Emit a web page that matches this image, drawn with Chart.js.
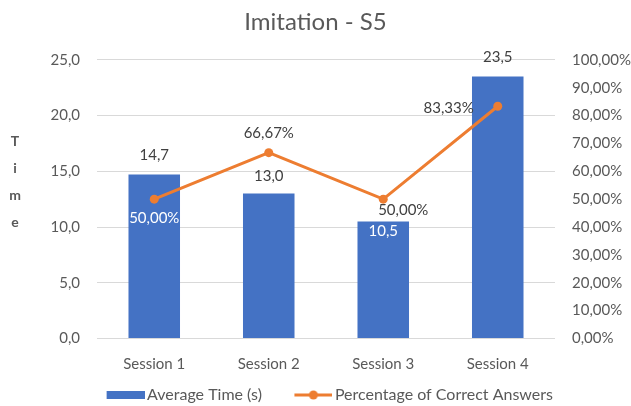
<!DOCTYPE html>
<html>
<head>
<meta charset="utf-8">
<script src="https://cdn.jsdelivr.net/npm/chart.js@4"></script>
<style>
  html, body { margin: 0; padding: 0; background: #fff; }
  #wrap { width: 631px; height: 406px; }
</style>
</head>
<body>
<div id="wrap"><canvas id="myChart" width="631" height="406"></canvas></div>
<script>
// chart data
const sessions = ['Session 1', 'Session 2', 'Session 3', 'Session 4'];
const avgTime = [14.7, 13.0, 10.5, 23.5];
const correctPct = [50.00, 66.67, 50.00, 83.33];

const BLUE = '#4472C4';
const ORANGE = '#ED7D31';
const GREY = '#595959';
const FONT = 'Lato';

function comma(v, d) {
    return v.toFixed(d).replace('.', ',');
}

// legend icons (left part transparent to space the two items apart)
function makeIcon(kind) {
    const c = document.createElement('canvas');
    c.width = 72; c.height = 10;
    const g = c.getContext('2d');
    const x0 = 34;
    if (kind === 'bar') {
        g.fillStyle = BLUE;
        g.fillRect(x0, 1, 38, 8);
    } else {
        g.strokeStyle = ORANGE;
        g.lineWidth = 3;
        g.beginPath(); g.moveTo(x0, 5); g.lineTo(x0 + 38, 5); g.stroke();
        g.fillStyle = ORANGE;
        g.beginPath(); g.arc(x0 + 19, 5, 4.5, 0, Math.PI * 2); g.fill();
    }
    return c;
}
const icons = [makeIcon('bar'), makeIcon('line')];

// where each value label sits relative to its mark
const barLabelPos = [
    {dx: 0, dy: -19, color: '#404040'},
    {dx: 0, dy: -17, color: '#404040'},
    {dx: 0, dy: 10, color: '#ffffff'},
    {dx: 0, dy: -19, color: '#404040'}
];
const lineLabelPos = [
    {dx: 0, dy: 19, color: '#ffffff', align: 'center'},
    {dx: 0, dy: -20, color: '#404040', align: 'center'},
    {dx: 20, dy: 11, color: '#404040', align: 'center'},
    {dx: -24, dy: 2, color: '#404040', align: 'right'}
];

const valueLabels = {
    id: 'valueLabels',
    afterDatasetsDraw(chart) {
        const ctx = chart.ctx;
        ctx.save();
        ctx.font = '15px ' + FONT;
        ctx.textBaseline = 'middle';
        chart.getDatasetMeta(0).data.forEach((el, i) => {
            const p = barLabelPos[i];
            ctx.fillStyle = p.color;
            ctx.textAlign = 'center';
            ctx.fillText(comma(avgTime[i], 1), el.x + p.dx, el.y + p.dy);
        });
        chart.getDatasetMeta(1).data.forEach((el, i) => {
            const p = lineLabelPos[i];
            ctx.fillStyle = p.color;
            ctx.textAlign = p.align;
            ctx.fillText(comma(correctPct[i], 2) + '%', el.x + p.dx, el.y + p.dy);
        });
        ctx.restore();
    }
};

// stacked "Time" axis title
const stackedTitle = {
    id: 'stackedTitle',
    afterDraw(chart) {
        const ctx = chart.ctx;
        ctx.save();
        ctx.font = 'bold 14px ' + FONT;
        ctx.fillStyle = GREY;
        ctx.textAlign = 'center';
        ctx.textBaseline = 'middle';
        'Time'.split('').forEach((ch, i) => {
            ctx.fillText(ch, 15, 141 + i * 27);
        });
        ctx.restore();
    }
};

const myChart = new Chart(document.getElementById('myChart'), {
    data: {
        labels: sessions,
        datasets: [{
            type: 'bar',
            label: 'Average Time (s)',
            data: avgTime,
            backgroundColor: BLUE,
            yAxisID: 'y',
            barPercentage: 0.45,
            categoryPercentage: 1,
            order: 1
        }, {
            type: 'line',
            label: 'Percentage of Correct Answers',
            data: correctPct,
            borderColor: ORANGE,
            backgroundColor: ORANGE,
            borderWidth: 3,
            pointRadius: 4.5,
            pointBackgroundColor: ORANGE,
            pointBorderWidth: 0,
            tension: 0,
            yAxisID: 'y1',
            order: 0
        }]
    },
    options: {
        responsive: false,
        animation: false,
        layout: {padding: {top: 0, bottom: -7, left: 0, right: 0}},
        plugins: {
            title: {
                display: true,
                text: 'Imitation - S5',
                color: GREY,
                font: {family: FONT, size: 24, weight: 'normal'},
                padding: {top: 8, bottom: 23}
            },
            legend: {
                position: 'bottom',
                labels: {
                    color: GREY,
                    font: {family: FONT, size: 16},
                    usePointStyle: true,
                    pointStyleWidth: 61,
                    padding: 4,
                    generateLabels(chart) {
                        const items = Chart.defaults.plugins.legend.labels.generateLabels(chart);
                        items.sort((a, b) => a.datasetIndex - b.datasetIndex);
                        items.forEach(it => { it.pointStyle = icons[it.datasetIndex]; });
                        return items;
                    }
                }
            },
            tooltip: {enabled: false}
        },
        scales: {
            x: {
                grid: {display: false},
                border: {display: false},
                ticks: {color: GREY, font: {family: FONT, size: 15}, padding: 9},
                afterFit(scale) { scale.height = 44.5; }
            },
            y: {
                position: 'left',
                min: 0, max: 25,
                ticks: {
                    stepSize: 5,
                    color: GREY,
                    font: {family: FONT, size: 15},
                    padding: 17,
                    callback: v => comma(v, 1)
                },
                grid: {color: '#d9d9d9', drawTicks: false},
                border: {display: false},
                afterFit(scale) { scale.width = 97; }
            },
            y1: {
                position: 'right',
                min: 0, max: 100,
                ticks: {
                    stepSize: 10,
                    color: GREY,
                    font: {family: FONT, size: 15},
                    padding: 17,
                    callback: v => comma(v, 2) + '%'
                },
                grid: {display: false, drawTicks: false},
                border: {display: false},
                afterFit(scale) { scale.width = 76; }
            }
        }
    },
    plugins: [valueLabels, stackedTitle]
});
</script>
</body>
</html>
